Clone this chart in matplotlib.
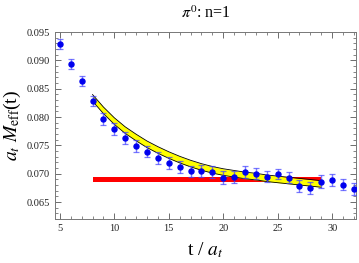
import matplotlib
matplotlib.use("Agg")
import matplotlib.pyplot as plt
import numpy as np
from matplotlib.ticker import MultipleLocator

plt.rcParams['font.family'] = ['Liberation Serif', 'DejaVu Serif']
plt.rcParams['mathtext.fontset'] = 'stix'

# effective mass data
t = np.arange(5, 33)
meff = [0.0929, 0.0893, 0.0863, 0.0829, 0.0797, 0.0779, 0.0763, 0.0749,
        0.0739, 0.0728, 0.0719, 0.0712, 0.0704, 0.0705, 0.0703, 0.0693,
        0.0694, 0.0703, 0.0700, 0.0695, 0.0699, 0.0693, 0.0678, 0.0675,
        0.0686, 0.0689, 0.0681, 0.0673]
err = [0.0009, 0.0009, 0.0009, 0.0009, 0.0011, 0.0011, 0.0011, 0.0011,
       0.0010, 0.0010, 0.0011, 0.0011, 0.0010, 0.0010, 0.0011, 0.0011,
       0.0011, 0.0011, 0.0010, 0.0010, 0.0009, 0.0010, 0.0011, 0.0011,
       0.0011, 0.0010, 0.0010, 0.0010]

# fit curve (yellow band), read at each t
t_fit = np.arange(8, 30)
fit_c = [0.0834, 0.0812, 0.0793, 0.0777, 0.0764, 0.0752, 0.0742, 0.0733,
         0.0725, 0.0718, 0.0712, 0.0707, 0.0703, 0.0700, 0.0697, 0.0695,
         0.0692, 0.0690, 0.0688, 0.0686, 0.0684, 0.0682]
fit_w = 0.00058

# constant fit (red band)
t_const = [8, 29]
const_c = 0.0690
const_w = 0.00048

fig = plt.figure(figsize=(3.59, 2.63), dpi=100)
ax = fig.add_axes([0.153, 0.167, 0.839, 0.711])

fc = np.array(fit_c)
ax.fill_between(t_const, const_c - const_w, const_c + const_w, color='#ff0000', lw=0, zorder=1)
ax.fill_between(t_fit, fc - fit_w, fc + fit_w, color='#ffff00', lw=0, zorder=2)
ax.plot(t_fit, fc + fit_w, color='black', lw=0.6, zorder=3)
ax.plot(t_fit, fc - fit_w, color='black', lw=0.6, zorder=3)

ax.errorbar(t, meff, yerr=err, fmt='none', ecolor='#4040ff', elinewidth=1.0,
            capsize=2.5, capthick=0.9, alpha=0.7, zorder=4)
ax.plot(t, meff, 'o', color='#0000ee', ms=3.6, zorder=5)

ax.set_xlim(4.55, 32.2)
ax.set_ylim(0.062, 0.095)
ax.xaxis.set_major_locator(MultipleLocator(5))
ax.xaxis.set_minor_locator(MultipleLocator(1))
ax.yaxis.set_major_locator(MultipleLocator(0.005))
ax.yaxis.set_minor_locator(MultipleLocator(0.001))
ax.yaxis.set_major_formatter(matplotlib.ticker.FormatStrFormatter('%.3f'))
ax.tick_params(which='both', direction='in', top=True, right=True,
               labelsize=7.5, colors='#555555', labelcolor='#222222')
ax.tick_params(which='major', length=4, width=0.6)
ax.tick_params(which='minor', length=2, width=0.5)
for s in ax.spines.values():
    s.set_color('#777777')
    s.set_linewidth(0.7)

ax.set_title(r'$\pi^0$: n=1', fontsize=11.5, pad=10)
ax.set_xlabel(r't / $a_t$', fontsize=14, labelpad=5)
ax.set_ylabel(r'$a_t\ M_{\rm eff}$(t)', fontsize=14, labelpad=3)

fig.savefig('out.png', dpi=100)
